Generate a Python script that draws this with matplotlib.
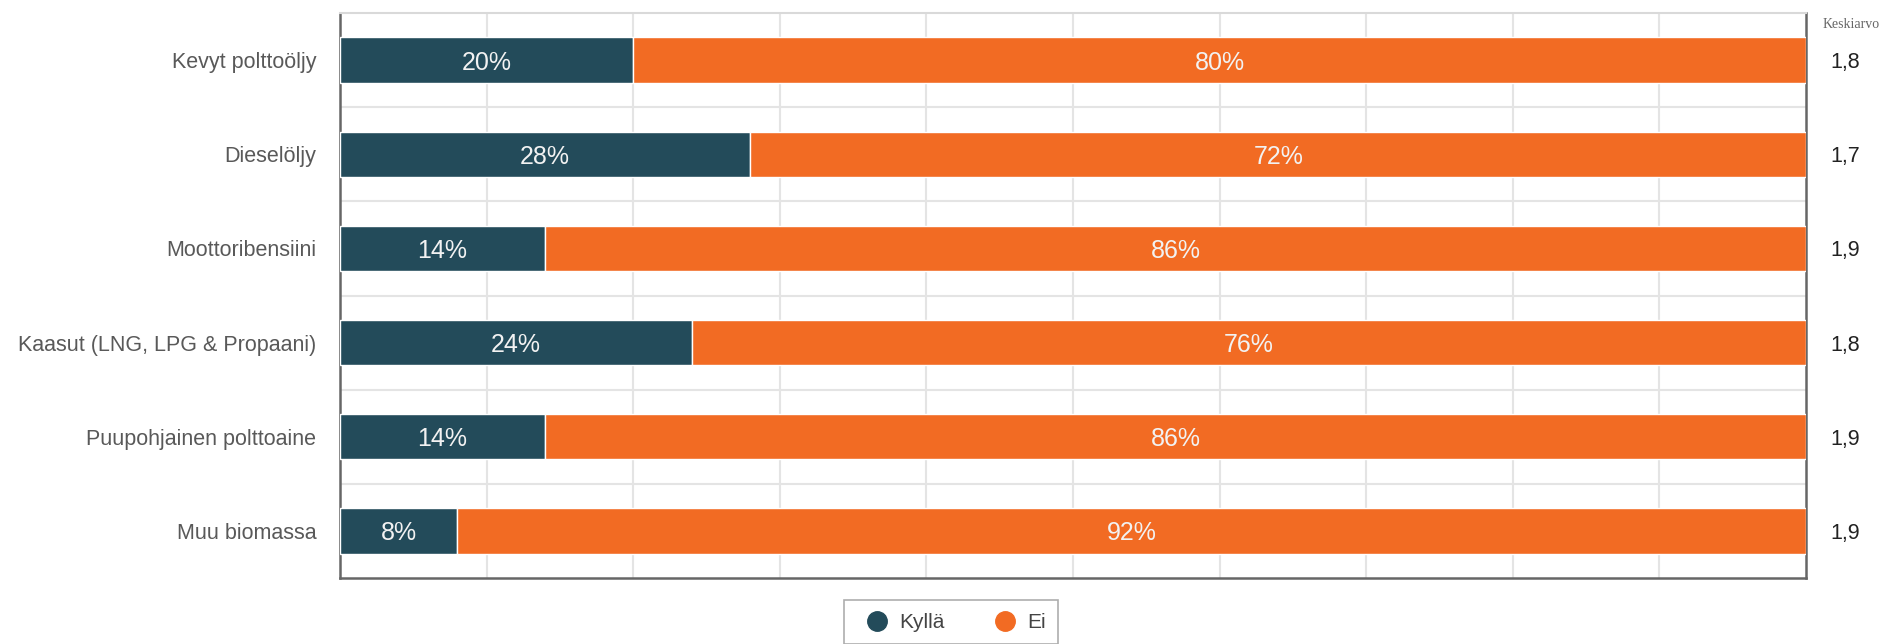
import numpy as np
import matplotlib.pyplot as plt
from matplotlib.lines import Line2D
from matplotlib.transforms import blended_transform_factory

plt.rcParams["font.family"] = ["Liberation Sans", "DejaVu Sans"]

categories = [
    "Kevyt polttoöljy",
    "Dieselöljy",
    "Moottoribensiini",
    "Kaasut (LNG, LPG & Propaani)",
    "Puupohjainen polttoaine",
    "Muu biomassa",
]
kylla = [20, 28, 14, 24, 14, 8]
ei = [80, 72, 86, 76, 86, 92]
keskiarvo = [1.8, 1.7, 1.9, 1.8, 1.9, 1.9]

DARK = "#234b5a"
ORANGE = "#f26b23"

fig = plt.figure(figsize=(18.85, 6.44), dpi=100)
ax = fig.add_axes([340 / 1885, 1 - 578 / 644, 1466 / 1885, 565 / 644])

y = np.arange(len(categories))
ax.barh(y, kylla, height=0.48, color=DARK, edgecolor="white", linewidth=1, zorder=3)
ax.barh(y, ei, left=kylla, height=0.48, color=ORANGE, edgecolor="white", linewidth=1, zorder=3)

# prosenttiluvut palkkien keskelle
for i in range(len(categories)):
    ax.text(kylla[i] / 2, i, f"{kylla[i]}%", ha="center", va="center_baseline",
            color="#f2f2f2", fontsize=18, zorder=4)
    ax.text(kylla[i] + ei[i] / 2, i, f"{ei[i]}%", ha="center", va="center_baseline",
            color="#f2f2f2", fontsize=18, zorder=4)

trans = blended_transform_factory(ax.transAxes, ax.transData)
for i, v in enumerate(keskiarvo):
    ax.text(1.0165, i, f"{v:.1f}".replace(".", ","), transform=trans,
            ha="left", va="center_baseline", fontsize=15.5, color="#222222")
ax.text(1.011, 0.98, "Keskiarvo", transform=ax.transAxes, ha="left", va="center",
        fontsize=10, color="#666666", family="Liberation Serif")

ax.set_xlim(0, 100)
ax.set_ylim(len(categories) - 0.5, -0.5)
ax.set_yticks(y)
ax.set_yticklabels(categories, fontsize=15.5, color="#595959")
ax.set_xticks(np.arange(10, 100, 10))
ax.set_xticklabels([])
ax.set_yticks(np.arange(0.5, len(categories) - 0.5, 1), minor=True)
ax.tick_params(axis="y", which="both", length=0, pad=17)
ax.tick_params(axis="x", length=0)
ax.grid(axis="x", which="major", color="#e4e4e4", linewidth=1.5, zorder=0)
ax.grid(axis="y", which="minor", color="#e4e4e4", linewidth=1.5, zorder=0)
ax.grid(axis="y", which="major", visible=False)

for side in ["left", "bottom", "right"]:
    ax.spines[side].set_color("#666666")
    ax.spines[side].set_linewidth(1.8)
ax.spines["top"].set_color("#d9d9d9")
ax.spines["top"].set_linewidth(1.5)

handles = [
    Line2D([], [], marker="o", linestyle="none", markersize=14, color=DARK, label="Kyllä"),
    Line2D([], [], marker="o", linestyle="none", markersize=14, color=ORANGE, label="Ei"),
]
leg = fig.legend(handles=handles, loc="upper center", bbox_to_anchor=(951 / 1885, 1 - 590 / 644),
                 ncol=2, frameon=True, fancybox=False, fontsize=15, columnspacing=1.9,
                 handletextpad=0.05, borderpad=0.6, labelcolor="#444444")
leg.get_frame().set_edgecolor("#999999")
leg.get_frame().set_linewidth(1.2)

fig.savefig("out.png", dpi=100)
